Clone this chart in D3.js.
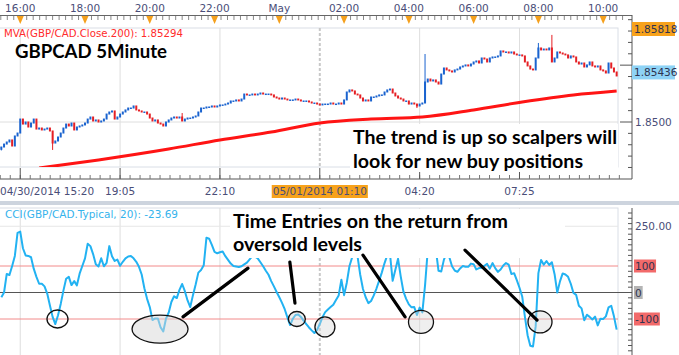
<!DOCTYPE html>
<html>
<head>
<meta charset="utf-8">
<script src="https://cdn.jsdelivr.net/npm/d3@7"></script>
<style>
  body { margin: 0; background: #fff; }
  svg { display: block; font-family: "DejaVu Sans", sans-serif; }
</style>
</head>
<body>
<svg id="chart" width="679" height="355"></svg>
<script>
// ---- data ----
const firstOpen = 1.8476;
const closes = [
  1.8478, 1.84806, 1.84824, 1.84842, 1.84789, 1.84877, 1.84903, 1.85026, 1.84982, 1.85,
  1.84956, 1.84991, 1.85026, 1.84938, 1.84947, 1.8493, 1.84938, 1.84947, 1.84921, 1.84815,
  1.84833, 1.84868, 1.84903, 1.84947, 1.84982, 1.84965, 1.84991, 1.8493, 1.84956, 1.84965,
  1.84974, 1.84991, 1.85026, 1.85044, 1.85009, 1.85018, 1.85, 1.85009, 1.85026, 1.8507,
  1.85088, 1.85097, 1.85026, 1.85044, 1.8507, 1.85088, 1.85106, 1.85123, 1.85123, 1.85141,
  1.85106, 1.85097, 1.85088, 1.85088, 1.8507, 1.85035, 1.85009, 1.85018, 1.84991, 1.84982,
  1.84965, 1.85, 1.85018, 1.85035, 1.85044, 1.85035, 1.85044, 1.85009, 1.85026, 1.85035,
  1.85035, 1.85044, 1.85053, 1.85088, 1.85123, 1.85123, 1.85132, 1.85132, 1.85141, 1.85132,
  1.85141, 1.8515, 1.8515, 1.85158, 1.85167, 1.85185, 1.85185, 1.85194, 1.85185, 1.85202,
  1.85246, 1.85238, 1.85238, 1.85246, 1.85238, 1.85246, 1.85255, 1.85246, 1.85246, 1.85246,
  1.85238, 1.8522, 1.85211, 1.85202, 1.85211, 1.85202, 1.85194, 1.85194, 1.85194, 1.85202,
  1.85194, 1.85185, 1.85185, 1.85185, 1.85176, 1.85167, 1.85167, 1.85158, 1.8515, 1.85158,
  1.85158, 1.85158, 1.85167, 1.85158, 1.85158, 1.85167, 1.85158, 1.85194, 1.85264, 1.85282,
  1.85273, 1.85246, 1.85238, 1.85211, 1.85185, 1.85194, 1.85185, 1.8522, 1.8522, 1.85229,
  1.85238, 1.85238, 1.85264, 1.85282, 1.8529, 1.85255, 1.85229, 1.85211, 1.85202, 1.85185,
  1.85185, 1.85158, 1.85167, 1.85158, 1.85141, 1.85158, 1.85167, 1.85352, 1.85378, 1.85361,
  1.8537, 1.85352, 1.85334, 1.85422, 1.85475, 1.85458, 1.85449, 1.8544, 1.85458, 1.85466,
  1.85484, 1.85493, 1.85502, 1.85493, 1.8551, 1.85528, 1.85537, 1.85519, 1.85563, 1.85554,
  1.85528, 1.85563, 1.85572, 1.85572, 1.85581, 1.85625, 1.85616, 1.85616, 1.85607, 1.85616,
  1.85598, 1.8559, 1.8559, 1.85581, 1.85528, 1.85493, 1.85466, 1.85458, 1.85563, 1.85651,
  1.85634, 1.85642, 1.85634, 1.85651, 1.85528, 1.85563, 1.85616, 1.85607, 1.85598, 1.8559,
  1.85563, 1.85581, 1.85572, 1.85528, 1.8551, 1.85519, 1.85484, 1.85502, 1.85528, 1.85493,
  1.85484, 1.85493, 1.85458, 1.85449, 1.85431, 1.85519, 1.85475, 1.8544, 1.85405
];
// bars with visible wicks
const wickBars = [0, 19, 67, 154, 157, 199, 204];
const wickHigh = [1.8478, 1.84921, 1.85079, 1.85158, 1.85598, 1.85695, 1.85766];
const wickLow  = [1.8475, 1.84754, 1.85009, 1.85123, 1.85167, 1.85563, 1.85528];

const mvaBars   = [14, 36, 62, 81, 100, 118, 137, 156, 175, 193, 212, 228];
const mvaValues = [1.84595, 1.84666, 1.84762, 1.84842, 1.84912, 1.84991, 1.85026, 1.85044, 1.85106, 1.85176, 1.85238, 1.85273];

const cci = [
  -18, 0, 70, 66, 100, 138, 225, 230, 167, 140,
  138, 133, 90, 59, 33, 33, 23, -4, -49, -92,
  -119, -86, -43, 7, 52, 59, 28, 43, 27, 71,
  100, 129, 184, 175, 145, 107, 98, 129, 99, 112,
  175, 137, 119, 124, 101, 116, 129, 136, 138, 129,
  116, 97, 68, 16, -24, -55, -104, -98, -98, -131,
  -147, -99, -76, -36, -14, -21, 10, 32, 5, -30,
  -55, -10, 30, 75, 85, 103, 207, 203, 180, 153,
  148, 152, 155, 137, 123, 109, 100, 98, 96, 99,
  106, 113, 125, 137, 135, 129, 114, 99, 82, 67,
  43, 23, 2, -18, -39, -63, -94, -123, -99, -85,
  -83, -92, -106, -119, -132, -143, -153, -141, -119, -93,
  -74, -64, -55, -46, -28, -11, 48, -10, 37, 100,
  133, 169, 135, 66, 13, -18, -40, -32, -11, 15,
  45, 76, 111, 141, 146, 44, 86, 127, 60, 3,
  -24, -45, -56, -55, -85, -57, -75, 27, 159, 181,
  186, 162, 82, 79, 124, 149, 133, 99, 83, 78,
  91, 100, 97, 97, 109, 107, 87, 92, 93, 101,
  108, 90, 111, 92, 78, 87, 102, 111, 105, 70,
  73, 47, 18, -15, -91, -161, -201, -204, -127, 73,
  123, 105, 119, 104, 114, 69, 0, 42, 72, 68,
  59, 33, -2, -9, -50, -60, -105, -84, -92, -102,
  -91, -124, -99, -100, -90, -56, -50, -90, -140
];

const topTickBars   = [7, 31, 55, 79, 103, 127, 151, 175, 199, 223];
const topTickLabels = ["16:00", "18:00", "20:00", "22:00", "May", "02:00", "04:00", "06:00", "08:00", "10:00"];
const bottomTickBars   = [7, 44, 81, 118, 155, 192];
const bottomTickLabels = ["04/30/2014 15:20", "19:05", "22:10", "05/01/2014 01:10", "04:20", "07:25"];
const dayBreakBar = 118;

const priceHigh = 1.85818, priceLast = 1.85436, priceGrid = 1.85;
const cciLevels = [100, 0, -100];
const cciGrid = 250;

// annotation marks, in bar / cci units
const ellipses = [
  { bar: 20.8, v: -100, rx: 10.5, ry: 9, fill: "none" },
  { bar: 58.8, v: -138, rx: 28, ry: 14, fill: "rgba(215,215,215,0.5)" },
  { bar: 109.5, v: -100, rx: 8.5, ry: 7.5, fill: "rgba(215,215,215,0.4)" },
  { bar: 119.9, v: -130, rx: 10, ry: 10, fill: "rgba(215,215,215,0.4)" },
  { bar: 155.5, v: -111, rx: 12.5, ry: 11.5, fill: "rgba(215,215,215,0.4)" },
  { bar: 199.6, v: -111, rx: 12, ry: 11, fill: "rgba(215,215,215,0.4)" }
];
const pointers = [
  [67.3, -92, 91.4, 92],
  [106.9, 115, 108.8, -40],
  [134, 141, 149.6, -92],
  [171.8, 160, 198.5, -104]
];

// ---- layout ----
const plotR = 618, axisX = 632;
const pTop = 28, pBot = 167, xAxisY = 179;
const cTop = 208, cBot = 355;
const textCol = "#4a4e78";

const svg = d3.select("#chart");
const x = d3.scaleLinear().domain([0, closes.length]).range([0, plotR]);
const cx = i => x(i + 0.5);
const y = d3.scaleLinear().domain([1.85, 1.85818]).range([122, 29]);
const yc = d3.scaleLinear().domain([-100, 100]).range([319, 266]);

const defs = svg.append("defs");
defs.append("clipPath").attr("id", "clipP").append("rect")
  .attr("x", 0).attr("y", pTop).attr("width", plotR).attr("height", pBot - pTop);
defs.append("clipPath").attr("id", "clipC").append("rect")
  .attr("x", 0).attr("y", cTop).attr("width", plotR).attr("height", cBot - cTop);

// panel frames
svg.append("rect").attr("x", -1).attr("y", pTop).attr("width", plotR + 1).attr("height", pBot - pTop)
  .attr("fill", "none").attr("stroke", "#d9dee6");
svg.append("rect").attr("x", -1).attr("y", cTop).attr("width", plotR + 1).attr("height", cBot - cTop + 2)
  .attr("fill", "none").attr("stroke", "#d9dee6");

// vertical gridlines in both panels
bottomTickBars.forEach(b => {
  [[pTop, pBot], [cTop, cBot]].forEach(([a, z]) => {
    svg.append("line").attr("x1", cx(b)).attr("x2", cx(b)).attr("y1", a).attr("y2", z)
      .attr("stroke", b === dayBreakBar ? "#c8c8c8" : "#dedede")
      .attr("stroke-width", b === dayBreakBar ? 2 : 1)
      .attr("stroke-dasharray", b === dayBreakBar ? "3,2" : null);
  });
});
svg.append("line").attr("x1", 0).attr("x2", plotR).attr("y1", y(priceGrid)).attr("y2", y(priceGrid))
  .attr("stroke", "#dedede");

// candles
const gC = svg.append("g").attr("clip-path", "url(#clipP)");
closes.forEach((c, i) => {
  const o = i ? closes[i - 1] : firstOpen;
  const col = c >= o ? "#1a63cf" : "#e51f24";
  const w = wickBars.indexOf(i);
  if (w >= 0) {
    gC.append("line").attr("x1", cx(i)).attr("x2", cx(i))
      .attr("y1", y(wickHigh[w])).attr("y2", y(wickLow[w]))
      .attr("stroke", col).attr("stroke-width", 1);
  }
  const top = y(Math.max(o, c));
  gC.append("rect").attr("x", cx(i) - 1).attr("width", 2)
    .attr("y", top - 0.5).attr("height", Math.max(1.5, y(Math.min(o, c)) - top + 1))
    .attr("fill", col);
});

// moving average
gC.append("path")
  .datum(mvaValues)
  .attr("d", d3.line().x((d, k) => cx(mvaBars[k])).y(d => y(d)).curve(d3.curveMonotoneX))
  .attr("fill", "none").attr("stroke", "#ff1414").attr("stroke-width", 3);

// top time axis
svg.append("line").attr("x1", 0).attr("x2", axisX).attr("y1", 15.5).attr("y2", 15.5)
  .attr("stroke", "#666");
d3.range(7 - 2.4 * 3, 232, 2.4).forEach(t => {
  const px = cx(t);
  if (px < 0 || px > axisX - 3) return;
  svg.append("line").attr("x1", px).attr("x2", px).attr("y1", 16).attr("y2", 20)
    .attr("stroke", "#888");
});
topTickBars.forEach((b, k) => {
  const px = cx(b);
  svg.append("path").attr("d", `M${px - 3.5},16L${px + 3.5},16L${px},24Z`).attr("fill", "#f5a01c");
  svg.append("text").attr("x", px).attr("y", 12).attr("text-anchor", "middle")
    .attr("font-size", 10.5).attr("fill", textCol).text(topTickLabels[k]);
});

// right price axis
svg.append("line").attr("x1", axisX).attr("x2", axisX).attr("y1", 15).attr("y2", xAxisY)
  .attr("stroke", "#555");
d3.range(1.844, 1.8605, 0.001).forEach(v => {
  const py = y(v);
  if (py < 17 || py > xAxisY - 2) return;
  const major = Math.abs(Math.round(v * 200) - v * 200) < 1e-6;
  svg.append("line").attr("x1", axisX - (major ? 12 : 4)).attr("x2", axisX)
    .attr("y1", py).attr("y2", py).attr("stroke", "#555");
});
svg.append("text").attr("x", 635).attr("y", y(priceGrid) + 4)
  .attr("font-size", 10.5).attr("fill", textCol).text(d3.format(".4f")(priceGrid));
[[priceHigh, "#f7a21b"], [priceLast, "#8ed3f6"]].forEach(([v, bg]) => {
  svg.append("rect").attr("x", axisX).attr("y", y(v) - 7).attr("width", 43).attr("height", 14).attr("fill", bg);
  svg.append("text").attr("x", axisX + 2).attr("y", y(v) + 4)
    .attr("font-size", 10.5).attr("fill", "#2f3350").text(d3.format(".5f")(v));
});

// bottom time axis
svg.append("line").attr("x1", 0).attr("x2", axisX).attr("y1", xAxisY).attr("y2", xAxisY)
  .attr("stroke", "#555");
d3.range(7 - 3.7 * 2, 232, 3.7).forEach(t => {
  const px = cx(t);
  if (px < 0 || px > axisX - 3) return;
  svg.append("line").attr("x1", px).attr("x2", px).attr("y1", xAxisY - 4).attr("y2", xAxisY)
    .attr("stroke", "#777");
});
bottomTickBars.forEach((b, k) => {
  svg.append("line").attr("x1", cx(b)).attr("x2", cx(b)).attr("y1", pBot + 1).attr("y2", xAxisY)
    .attr("stroke", "#555");
  const first = k === 0;
  const t = svg.append("text").attr("x", first ? 0 : cx(b)).attr("y", 195)
    .attr("text-anchor", first ? "start" : "middle")
    .attr("font-size", 10.5).attr("fill", textCol).text(bottomTickLabels[k]);
  if (b === dayBreakBar) {
    const bb = t.node().getBBox();
    svg.insert("rect", () => t.node()).attr("x", bb.x - 1).attr("y", 185)
      .attr("width", bb.width + 2).attr("height", 13).attr("fill", "#f7a21b");
  }
});

// separator band
svg.append("rect").attr("x", 0).attr("y", 201).attr("width", 679).attr("height", 4).attr("fill", "#cdd4de");

// CCI panel
svg.append("line").attr("x1", 0).attr("x2", plotR).attr("y1", yc(cciGrid)).attr("y2", yc(cciGrid))
  .attr("stroke", "#e6e6e6");
cciLevels.forEach(v => {
  svg.append("line").attr("x1", 0).attr("x2", v === 0 ? axisX : plotR).attr("y1", yc(v)).attr("y2", yc(v))
    .attr("stroke", v === 0 ? "#555" : "#f28a8a").attr("stroke-width", 1);
});
svg.append("path").datum(cci)
  .attr("clip-path", "url(#clipC)")
  .attr("d", d3.line().x((d, i) => cx(i)).y(d => yc(d)))
  .attr("fill", "none").attr("stroke", "#22b2f2").attr("stroke-width", 2)
  .attr("stroke-linejoin", "round");

svg.append("line").attr("x1", axisX).attr("x2", axisX).attr("y1", cTop).attr("y2", cBot)
  .attr("stroke", "#555");
d3.range(-240, 301, 20).forEach(v => {
  const py = yc(v);
  if (py < cTop || py > cBot) return;
  svg.append("line").attr("x1", axisX - (v === cciGrid ? 12 : 4)).attr("x2", axisX)
    .attr("y1", py).attr("y2", py).attr("stroke", "#555");
});
svg.append("text").attr("x", 635).attr("y", yc(cciGrid) + 4)
  .attr("font-size", 10.5).attr("fill", textCol).text(d3.format(".2f")(cciGrid));
cciLevels.forEach(v => {
  const t = svg.append("text").attr("x", 635).attr("y", yc(v) + 4)
    .attr("font-size", 10.5).attr("fill", "#2f3350").text(v);
  const bb = t.node().getBBox();
  svg.insert("rect", () => t.node()).attr("x", bb.x - 1).attr("y", yc(v) - 6.5)
    .attr("width", bb.width + 2).attr("height", 13).attr("fill", v === 0 ? "#b4b4b4" : "#f26a6a");
});

// legends
svg.append("text").attr("x", 4).attr("y", 37).attr("font-size", 10)
  .attr("textLength", 179).attr("lengthAdjust", "spacingAndGlyphs")
  .attr("fill", "#ff2b2b").text("MVA(GBP/CAD.Close.200): 1.85294");
svg.append("text").attr("x", 5).attr("y", 218).attr("font-size", 10)
  .attr("textLength", 173).attr("lengthAdjust", "spacingAndGlyphs")
  .attr("fill", "#35b3ec").text("CCI(GBP/CAD.Typical, 20): -23.69");

// annotations
const bold = (tx, ty, str, len, size) => svg.append("text")
  .attr("x", tx).attr("y", ty).attr("font-family", "Lato, sans-serif").attr("font-weight", 700)
  .attr("font-size", size).attr("textLength", len).attr("lengthAdjust", "spacingAndGlyphs")
  .attr("fill", "#000").text(str);

bold(15, 58, "GBPCAD 5Minute", 152, 19);

svg.append("rect").attr("x", 350).attr("y", 124).attr("width", plotR - 350).attr("height", 48).attr("fill", "#fff");
bold(353, 144, "The trend is up so scalpers will", 264, 19);
bold(353, 168, "look for new buy positions", 230, 19);

svg.append("rect").attr("x", 230).attr("y", cTop + 1).attr("width", 335).attr("height", 49).attr("fill", "#fff");
bold(233, 228, "Time Entries on the return from", 275, 19);
bold(233, 251, "oversold levels", 129, 19);

ellipses.forEach(e => {
  svg.append("ellipse").attr("cx", cx(e.bar)).attr("cy", yc(e.v)).attr("rx", e.rx).attr("ry", e.ry)
    .attr("fill", e.fill).attr("stroke", "#111").attr("stroke-width", 1.3);
});
pointers.forEach(([b1, v1, b2, v2]) => {
  svg.append("line").attr("x1", cx(b1)).attr("y1", yc(v1)).attr("x2", cx(b2)).attr("y2", yc(v2))
    .attr("stroke", "#000").attr("stroke-width", 3.2).attr("stroke-linecap", "round");
});
</script>
</body>
</html>
